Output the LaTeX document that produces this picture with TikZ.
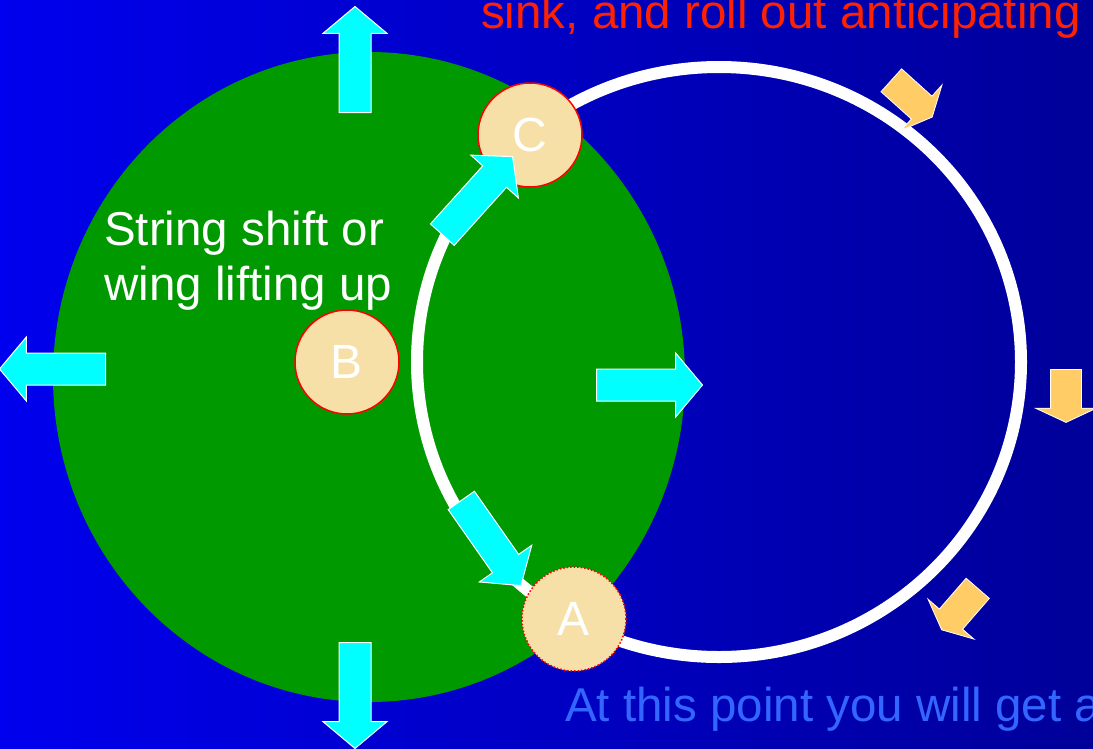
\documentclass[tikz,border=0pt]{standalone}
\usepackage{fontspec}
\setmainfont{Liberation Sans}
\usetikzlibrary{shapes.arrows}
\definecolor{slideleft}{HTML}{0000EE}
\definecolor{slideright}{HTML}{000099}
\definecolor{wavegreen}{HTML}{009900}
\definecolor{padfill}{HTML}{F7E0A8}
\definecolor{padline}{HTML}{FF0000}
\definecolor{pushcyan}{HTML}{00FFFF}
\definecolor{pullorange}{HTML}{FFCC66}
\definecolor{notered}{HTML}{FF2200}
\definecolor{noteblue}{HTML}{3366FF}
\tikzset{
  notetext/.style={font=\fontsize{47.5}{55}\selectfont, inner sep=0pt},
  markerdisc/.style={circle, fill=padfill, draw=padline, line width=1.5pt,
    minimum size=104pt, inner sep=0pt, text=white,
    font=\fontsize{48}{48}\selectfont},
  ringline/.style={draw=white, line width=12pt},
  cyanarrow/.style={single arrow, draw=white, line width=1pt, fill=pushcyan,
    inner xsep=0pt, inner ysep=15.5pt, single arrow head extend=16pt,
    single arrow tip angle=100, minimum height=106pt, anchor=tail},
  orangearrow/.style={single arrow, draw=white, line width=.8pt, fill=pullorange,
    inner xsep=0pt, inner ysep=15pt, single arrow head extend=15pt,
    single arrow tip angle=130, minimum height=55pt, anchor=tail}
}
\begin{document}
\begin{tikzpicture}[x=1pt,y=-1pt]
  \useasboundingbox (0,0) rectangle (1093,748);
  \clip (0,0) rectangle (1093,748);
  \shade[left color=slideleft, right color=slideright] (0,0) rectangle (1093,748);

  % lift zone and the loop
  \fill[wavegreen] (369,377) ellipse [x radius=316pt, y radius=325pt];
  \draw[ringline] (719,362) ellipse [x radius=302pt, y radius=295pt];

  \node[markerdisc] (padC) at (530,135) {C};
  \node[markerdisc] (padB) at (347,362) {B};
  \node[markerdisc, dotted] (padA) at (574,619) {A};

  % outward pushes
  \node[cyanarrow, rotate=90] (pushUp) at (355,113) {};
  \node[cyanarrow, rotate=180] (pushLeft) at (106,369) {};
  \node[cyanarrow, rotate=0] (pushRight) at (596,385) {};
  \node[cyanarrow, rotate=-90] (pushDown) at (355,642) {};
  \node[cyanarrow, rotate=48, minimum height=105pt] (pushC) at (442,235) {};
  \node[cyanarrow, rotate=-55, minimum height=104pt] (pushA) at (461,500) {};

  % pull back on the far side
  \node[orangearrow, rotate=-42] (pullTop) at (891,80) {};
  \node[orangearrow, rotate=-90, minimum height=53pt] (pullSide) at (1066,369) {};
  \node[orangearrow, rotate=-131] (pullLow) at (978,588) {};

  \node[notetext, text=notered, anchor=base west] (topNote) at (481,28)
    {sink, and roll out anticipating};
  \node[notetext, text=noteblue, anchor=base west] (lowNote) at (565,721)
    {At this point you will get a};
  \node[notetext, text=white, align=left, anchor=north west] (liftNote) at (104,211)
    {String shift or\\wing lifting up};
\end{tikzpicture}
\end{document}
